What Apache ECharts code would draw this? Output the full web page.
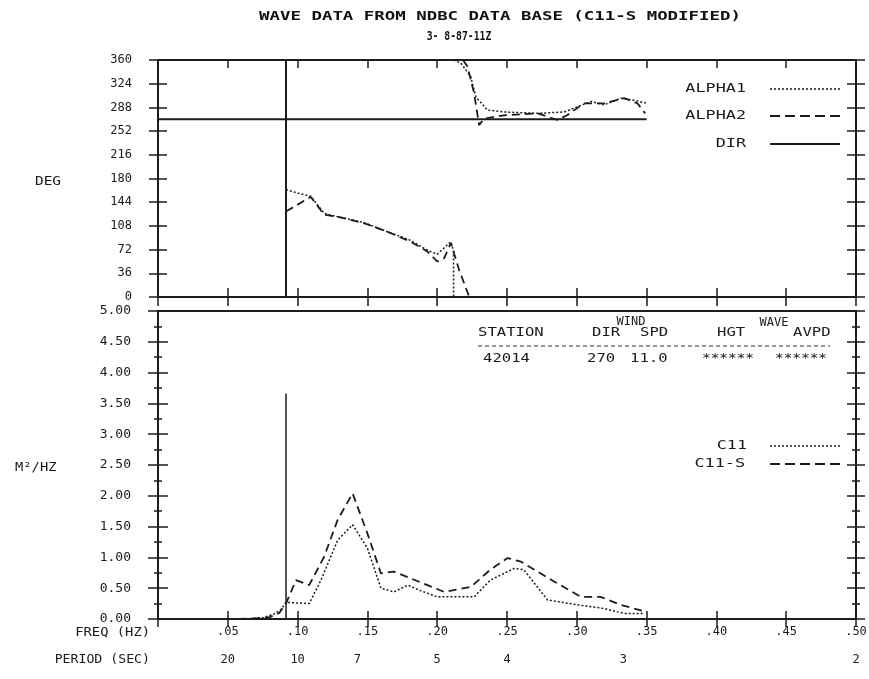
<!DOCTYPE html>
<html>
<head>
<meta charset="utf-8">
<script src="https://cdn.jsdelivr.net/npm/echarts@6/dist/echarts.min.js"></script>
<style>
html, body { margin: 0; padding: 0; background: #fff; }
#chart { width: 869px; height: 679px; }
</style>
</head>
<body>
<div id="chart"></div>
<script>
// tick labels
const freqLabels = ['', '.05', '.10', '.15', '.20', '.25', '.30', '.35', '.40', '.45', '.50'];
const periodLabels = [20, 10, 7, 5, 4, 3, 2];

// direction panel (deg), split where the angle wraps 0/360
const alpha1LowFreq = [0.0917, 0.1000, 0.1095, 0.119, 0.1287, 0.1477, 0.1645, 0.181, 0.193, 0.200, 0.2098, 0.2117, 0.2117];
const alpha1LowDeg = [163, 158, 153, 127, 122, 113, 99, 86, 71, 65, 84, 70, 0];
const alpha1HighFreq = [0.2117, 0.217, 0.224, 0.2277, 0.236, 0.248, 0.272, 0.291, 0.3005, 0.310, 0.3196, 0.3315, 0.341, 0.3506];
const alpha1HighDeg = [360, 355, 335, 304, 284, 281, 279, 281, 289, 297, 292, 302, 299, 294];
const alpha2LowFreq = [0.0917, 0.1095, 0.119, 0.1287, 0.1477, 0.1645, 0.181, 0.193, 0.200, 0.205, 0.2098, 0.2157, 0.223];
const alpha2LowDeg = [130, 152, 125, 122, 112, 99, 84, 69, 54, 59, 82, 41, 0];
const alpha2HighFreq = [0.2185, 0.2217, 0.2265, 0.230, 0.2337, 0.248, 0.272, 0.286, 0.293, 0.305, 0.3196, 0.334, 0.3435, 0.349];
const alpha2HighDeg = [360, 350, 309, 261, 271, 276, 279, 269, 276, 294, 294, 302, 294, 279];
const dirFreq = [0, 0.35];
const dirDeg = [270, 270];

// spectrum panel (m^2/hz)
const c11Freq = [0.060, 0.075, 0.083, 0.088, 0.0917, 0.1083, 0.1167, 0.1287, 0.1394, 0.150, 0.1597, 0.169, 0.179, 0.188, 0.200, 0.2265, 0.238, 0.255, 0.262, 0.279, 0.3005, 0.3196, 0.334, 0.348];
const c11Val = [0.00, 0.02, 0.08, 0.15, 0.27, 0.25, 0.63, 1.28, 1.53, 1.15, 0.50, 0.44, 0.55, 0.46, 0.36, 0.36, 0.63, 0.82, 0.80, 0.31, 0.23, 0.17, 0.09, 0.09];
const c11sFreq = [0.058, 0.070, 0.080, 0.087, 0.0917, 0.0988, 0.1083, 0.119, 0.1287, 0.1394, 0.150, 0.1597, 0.169, 0.181, 0.205, 0.224, 0.238, 0.2504, 0.260, 0.2837, 0.303, 0.317, 0.3315, 0.349];
const c11sVal = [0.00, 0.01, 0.03, 0.10, 0.25, 0.63, 0.55, 1.01, 1.61, 2.04, 1.39, 0.74, 0.77, 0.66, 0.44, 0.52, 0.80, 0.99, 0.93, 0.61, 0.36, 0.36, 0.23, 0.12];

// peak marker line
const peakFreq = [0.0917, 0.0917];
const peakDeg = [0, 360];
const peakSpec = [0, 3.66];

// station table
const tableHead = ['STATION', 'DIR', 'SPD', 'HGT', 'AVPD'];
const tableRow = ['42014', '270', '11.0', '******', '******'];

const FONT = 'DejaVu Sans Mono';
const INK = '#1c1c1c';
const zip = (a, b) => a.map((v, i) => [v, b[i]]);

function xAx(grid, pos, inside, len, extra) {
    return Object.assign({
        type: 'value', gridIndex: grid, position: pos,
        min: 0, max: 0.5, interval: 0.05,
        axisLine: { show: true, onZero: false, lineStyle: { color: INK, width: 2 } },
        axisTick: { show: len > 0, inside: inside, length: len, lineStyle: { color: INK, width: 1.5 } },
        axisLabel: { show: false },
        splitLine: { show: false }
    }, extra || {});
}

function yAx(grid, pos, inside, len, max, interval, extra) {
    return Object.assign({
        type: 'value', gridIndex: grid, position: pos,
        min: 0, max: max, interval: interval,
        axisLine: { show: true, onZero: false, lineStyle: { color: INK, width: 2 } },
        axisTick: { show: true, inside: inside, length: len, lineStyle: { color: INK, width: 1.5 } },
        axisLabel: { show: false },
        splitLine: { show: false }
    }, extra || {});
}

const minor = { show: true, splitNumber: 2, length: 4, lineStyle: { color: INK, width: 1.5 } };
const labelStyle = { color: '#1a1a1a', fontFamily: FONT, fontSize: 12 };

function txt(x, y, s, o) {
    o = o || {};
    return {
        type: 'text', x: x, y: y, scaleX: o.sx || 1.3,
        style: {
            text: s, fontFamily: FONT, fontSize: o.size || 12,
            fontWeight: o.bold ? 'bold' : 'normal',
            fill: o.color || '#1a1a1a', align: o.align || 'left', verticalAlign: 'middle'
        }
    };
}

function legendLine(y, dash, w) {
    return {
        type: 'line', shape: { x1: 770, y1: y, x2: 840, y2: y },
        style: { stroke: INK, lineWidth: w, lineDash: dash }
    };
}

function line(name, xi, yi, data, type, width) {
    return {
        name: name, type: 'line', xAxisIndex: xi, yAxisIndex: yi,
        data: data, showSymbol: false, symbol: 'none',
        lineStyle: { color: INK, width: width, type: type },
        z: 3
    };
}

const dotted = [2, 2];
const dashed = [8, 5];

const option = {
    animation: false,
    backgroundColor: '#fff',
    textStyle: { fontFamily: FONT },
    grid: [
        { left: 158, right: 13, top: 60, height: 237, outerBoundsMode: 'none' },
        { left: 158, right: 13, top: 311, height: 308, outerBoundsMode: 'none' }
    ],
    xAxis: [
        xAx(0, 'bottom', false, 9),
        xAx(0, 'bottom', true, 9),
        xAx(0, 'top', true, 8),
        xAx(1, 'bottom', false, 8, {
            axisLabel: {
                show: true, margin: 7, ...labelStyle,
                formatter: v => freqLabels[Math.round(v / 0.05)]
            }
        }),
        xAx(1, 'bottom', true, 8),
        xAx(1, 'top', false, 0),
        {
            type: 'value', gridIndex: 1, position: 'bottom', min: 0, max: 0.5,
            axisLine: { show: false }, axisTick: { show: false }, splitLine: { show: false },
            axisLabel: {
                show: true, margin: 35, ...labelStyle,
                customValues: periodLabels.map(p => 1 / p),
                formatter: v => String(Math.round(1 / v))
            }
        }
    ],
    yAxis: [
        yAx(0, 'left', false, 9, 360, 36, {
            axisLabel: { show: true, margin: 26, ...labelStyle }
        }),
        yAx(0, 'left', true, 9, 360, 36),
        yAx(0, 'right', false, 9, 360, 36),
        yAx(0, 'right', true, 9, 360, 36),
        yAx(1, 'left', false, 10, 5, 0.5, {
            minorTick: minor,
            axisLabel: { show: true, margin: 27, ...labelStyle, fontSize: 13, formatter: v => v.toFixed(2) }
        }),
        yAx(1, 'left', true, 10, 5, 0.5, { minorTick: minor }),
        yAx(1, 'right', false, 9, 5, 0.5, { minorTick: minor }),
        yAx(1, 'right', true, 9, 5, 0.5, { minorTick: minor })
    ],
    series: [
        line('ALPHA1', 0, 0, zip(alpha1LowFreq, alpha1LowDeg), dotted, 1.5),
        line('ALPHA1', 0, 0, zip(alpha1HighFreq, alpha1HighDeg), dotted, 1.5),
        line('ALPHA2', 0, 0, zip(alpha2LowFreq, alpha2LowDeg), dashed, 1.8),
        line('ALPHA2', 0, 0, zip(alpha2HighFreq, alpha2HighDeg), dashed, 1.8),
        line('DIR', 0, 0, zip(dirFreq, dirDeg), 'solid', 2),
        line('peak', 0, 0, zip(peakFreq, peakDeg), 'solid', 2),
        line('C11', 3, 4, zip(c11Freq, c11Val), dotted, 1.5),
        line('C11-S', 3, 4, zip(c11sFreq, c11sVal), dashed, 1.8),
        line('peak', 3, 4, zip(peakFreq, peakSpec), 'solid', 1.5)
    ],
    graphic: [
        txt(500, 17, 'WAVE DATA FROM NDBC DATA BASE (C11-S MODIFIED)', { bold: true, align: 'center', sx: 1.45, color: '#111' }),
        txt(459, 37, '3- 8-87-11Z', { bold: true, align: 'center', sx: 0.75, size: 13, color: '#111' }),
        txt(35, 182, 'DEG', { sx: 1.2 }),
        txt(15, 468, 'M²/HZ', { sx: 1.15 }),
        txt(150, 633, 'FREQ (HZ)', { align: 'right', sx: 1.15 }),
        txt(150, 660, 'PERIOD (SEC)', { align: 'right', sx: 1.1 }),
        // direction legend
        txt(746, 89, 'ALPHA1', { align: 'right', sx: 1.4 }),
        txt(746, 116, 'ALPHA2', { align: 'right', sx: 1.4 }),
        txt(746, 144, 'DIR', { align: 'right', sx: 1.4 }),
        legendLine(89, dotted, 1.5),
        legendLine(116, [10, 5], 2),
        legendLine(144, null, 1.8),
        // spectrum legend
        txt(747, 446, 'C11', { align: 'right', sx: 1.4 }),
        txt(745, 464, 'C11-S', { align: 'right', sx: 1.4 }),
        legendLine(446, dotted, 1.5),
        legendLine(464, [10, 5], 2),
        // station table
        txt(631, 322, 'WIND', { align: 'center', sx: 1.0 }),
        txt(774, 323, 'WAVE', { align: 'center', sx: 1.0 }),
        txt(478, 333, tableHead[0]),
        txt(592, 333, tableHead[1]),
        txt(640, 333, tableHead[2]),
        txt(717, 333, tableHead[3]),
        txt(793, 333, tableHead[4]),
        {
            type: 'line', shape: { x1: 478, y1: 346, x2: 830, y2: 346 },
            style: { stroke: '#333', lineWidth: 1, lineDash: [4, 3] }
        },
        txt(483, 359, tableRow[0]),
        txt(587, 359, tableRow[1]),
        txt(630, 359, tableRow[2]),
        txt(702, 359, tableRow[3], { sx: 1.2 }),
        txt(775, 359, tableRow[4], { sx: 1.2 })
    ]
};

echarts.init(document.getElementById('chart')).setOption(option);
</script>
</body>
</html>
